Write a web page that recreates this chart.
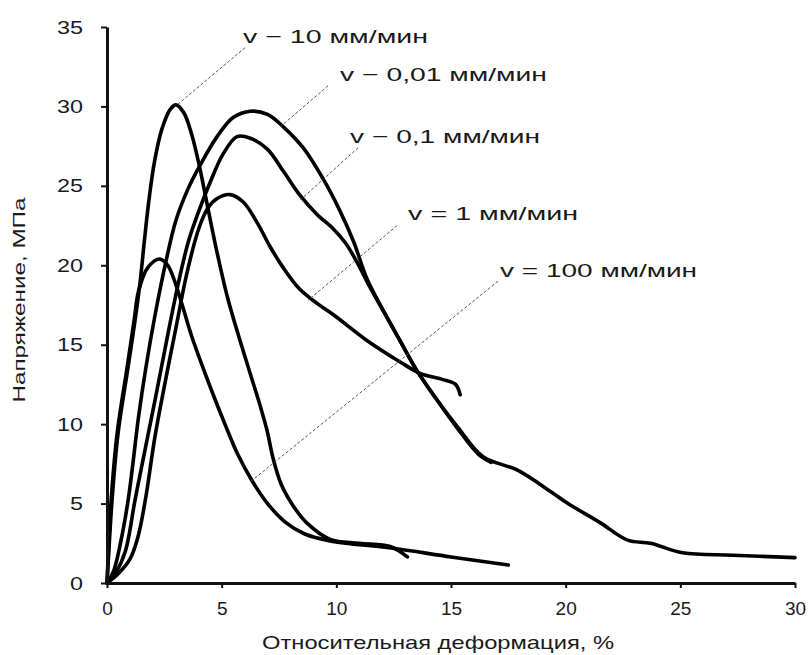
<!DOCTYPE html>
<html>
<head>
<meta charset="utf-8">
<script src="https://cdn.jsdelivr.net/npm/d3@7"></script>
<style>
  body { margin: 0; background: #fff; }
  svg { display: block; }
  text { font-family: "Liberation Sans", Arial, sans-serif; fill: #1a1a1a; }
</style>
</head>
<body>
<div id="vis"></div>
<script>
// tick values on both axes
const strainTicks = [0, 5, 10, 15, 20, 25, 30];
const stressTicks = [0, 5, 10, 15, 20, 25, 30, 35];

// axis titles
const xTitle = "Относительная деформация, %";
const yTitle = "Напряжение, МПа";

// stress-strain curves, [strain %, stress MPa]
const curve10 = [[0, 0], [0.08, 2], [0.22, 5.2], [0.48, 9.4], [0.92, 13.6], [1.2, 16.3], [1.44, 18.9],
  [1.62, 21.4], [1.82, 24.0], [2.08, 26.6], [2.4, 28.6], [2.75, 29.8], [3.01, 30.1], [3.35, 29.6],
  [3.7, 28.2], [4.05, 26.1], [4.4, 23.6], [4.8, 20.8], [5.25, 18.0], [5.75, 15.5], [6.24, 13.2],
  [6.65, 11.3], [6.98, 9.6], [7.25, 7.8], [7.6, 6.2], [8.1, 4.9], [8.7, 3.8], [9.73, 2.75],
  [11.0, 2.5], [12.35, 2.3], [13.1, 1.64]];

const curve001 = [[0, 0], [0.3, 0.8], [0.6, 2.6], [0.92, 5.2], [1.12, 7.4], [1.37, 10.4], [1.7, 13.6],
  [2.1, 16.9], [2.55, 20.1], [3.0, 22.8], [3.5, 24.7], [4.06, 26.3], [4.8, 28.1], [5.5, 29.3],
  [6.25, 29.7], [7.0, 29.5], [7.7, 28.7], [8.55, 27.4], [9.4, 25.5], [10.1, 23.6], [10.75, 21.5],
  [11.35, 19.1], [12.1, 17.0], [12.8, 15.2], [13.5, 13.4], [14.4, 11.5], [15.3, 9.8], [16.4, 7.95],
  [17.9, 7.1], [19.4, 5.7], [20.1, 5.0], [21.5, 3.8], [22.7, 2.7], [23.7, 2.5], [25.1, 1.9],
  [27.3, 1.75], [30.0, 1.6]];

const curve01 = [[0, 0], [0.4, 0.7], [0.8, 2.0], [1.22, 5.2], [1.66, 8.4], [2.12, 11.7], [2.62, 15.4],
  [3.1, 18.8], [3.55, 21.5], [4.0, 23.4], [4.49, 25.2], [5.06, 27.0], [5.67, 28.1], [6.25, 28.0],
  [7.0, 27.3], [7.7, 25.9], [8.42, 24.4], [9.16, 23.2], [9.86, 22.3], [10.4, 21.4], [10.9, 20.2],
  [11.4, 18.8], [12.1, 17.0], [12.8, 15.2], [13.5, 13.4], [14.4, 11.5], [15.3, 9.7], [16.2, 8.1],
  [16.75, 7.6]];

const curve1 = [[0, 0], [0.5, 0.6], [1.0, 1.5], [1.35, 2.9], [1.68, 5.3], [2.09, 9.2], [2.53, 12.6],
  [2.97, 15.8], [3.5, 19.6], [4.0, 22.3], [4.4, 23.6], [4.8, 24.2], [5.36, 24.45], [5.93, 24.0],
  [6.54, 22.7], [7.1, 21.2], [7.66, 19.9], [8.4, 18.5], [9.16, 17.6], [9.86, 16.9], [11.3, 15.3],
  [12.8, 13.9], [13.65, 13.2], [14.65, 12.8], [15.2, 12.5], [15.4, 11.85]];

const curve100 = [[0, 0], [0.06, 2], [0.18, 5.2], [0.44, 9.4], [0.88, 13.6], [1.18, 16.5], [1.38, 18.4],
  [1.8, 19.9], [2.3, 20.4], [2.65, 20.0], [2.95, 19.0], [3.3, 17.4], [3.7, 15.5], [4.2, 13.5],
  [4.7, 11.6], [5.2, 9.8], [5.7, 8.1], [6.3, 6.5], [7.0, 5.0], [7.8, 3.8], [8.6, 3.1], [9.73, 2.65],
  [12.4, 2.2], [15.0, 1.64], [17.5, 1.13]];

// curve labels, where each label sits and where its leader line points (data units)
const speedLabels = ["v − 10 мм/мин", "v − 0,01 мм/мин", "v − 0,1 мм/мин", "v = 1 мм/мин", "v = 100 мм/мин"];
const labelAnchors = [[5.93, 34.0], [10.16, 31.6], [10.6, 27.7], [13.13, 22.85], [17.14, 19.26]];
const leaderStarts = [[6.02, 33.7], [9.64, 31.3], [10.95, 27.4], [12.65, 22.5], [17.05, 19.0]];
const leaderEnds = [[3.1, 30.15], [7.54, 28.7], [8.42, 24.1], [8.77, 17.8], [6.24, 6.36]];

function stressChart() {
  const width = 810;
  const height = 655;
  const margin = { top: 27, right: 15, bottom: 72, left: 107 };

  const svg = d3
    .select("#vis")
    .append("svg")
    .attr("width", width)
    .attr("height", height);

  const x = d3
    .scaleLinear()
    .domain([0, 30])
    .range([margin.left, width - margin.right]);

  const y = d3
    .scaleLinear()
    .domain([0, 35])
    .range([height - margin.bottom, margin.top]);

  // curves first, axes drawn on top
  const line = d3
    .line()
    .x((d) => x(d[0]))
    .y((d) => y(d[1]))
    .curve(d3.curveCatmullRom.alpha(0.5));

  const curves = [curve10, curve001, curve01, curve1, curve100];

  svg
    .append("g")
    .selectAll("path")
    .data(curves)
    .enter()
    .append("path")
    .attr("d", line)
    .attr("fill", "none")
    .attr("stroke", "#000")
    .attr("stroke-width", 3.6)
    .attr("stroke-linejoin", "round")
    .attr("stroke-linecap", "round");

  // dashed leaders from labels to curves
  svg
    .append("g")
    .selectAll("line")
    .data(speedLabels.map((s, i) => [leaderStarts[i], leaderEnds[i]]))
    .enter()
    .append("line")
    .attr("x1", (d) => x(d[0][0]))
    .attr("y1", (d) => y(d[0][1]))
    .attr("x2", (d) => x(d[1][0]))
    .attr("y2", (d) => y(d[1][1]))
    .attr("stroke", "#555")
    .attr("stroke-width", 1)
    .attr("stroke-dasharray", "3,2");

  const labelWidths = [185, 207, 190, 170, 197];

  svg
    .append("g")
    .selectAll("text")
    .data(speedLabels)
    .enter()
    .append("text")
    .attr("x", (d, i) => x(labelAnchors[i][0]))
    .attr("y", (d, i) => y(labelAnchors[i][1]))
    .attr("font-size", 19)
    .attr("textLength", (d, i) => labelWidths[i])
    .attr("lengthAdjust", "spacingAndGlyphs")
    .text((d) => d);

  // axes
  const xAxis = svg
    .append("g")
    .attr("transform", `translate(0,${height - margin.bottom})`)
    .call(
      d3
        .axisBottom(x)
        .tickValues(strainTicks)
        .tickSize(5)
        .tickSizeOuter(0)
        .tickPadding(14)
    );

  const yAxis = svg
    .append("g")
    .attr("transform", `translate(${margin.left},0)`)
    .call(
      d3
        .axisLeft(y)
        .tickValues(stressTicks)
        .tickSize(6)
        .tickSizeOuter(0)
        .tickPadding(18)
    );

  [xAxis, yAxis].forEach((g) => {
    g.select(".domain").attr("stroke", "#111").attr("stroke-width", 3);
    g.selectAll(".tick line").attr("stroke", "#111").attr("stroke-width", 2);
    g.selectAll(".tick text")
      .attr("font-size", 19)
      .attr("font-family", "Liberation Sans, Arial, sans-serif")
      .attr("fill", "#1a1a1a");
  });

  yAxis.selectAll(".tick text")
    .attr("textLength", (d) => String(d).length * 13)
    .attr("lengthAdjust", "spacingAndGlyphs");

  // axis titles
  svg
    .append("text")
    .attr("x", 438)
    .attr("y", 649)
    .attr("text-anchor", "middle")
    .attr("font-size", 19)
    .attr("textLength", 352)
    .attr("lengthAdjust", "spacingAndGlyphs")
    .text(xTitle);

  svg
    .append("text")
    .attr("transform", "translate(25,300) rotate(-90)")
    .attr("text-anchor", "middle")
    .attr("font-size", 17)
    .attr("textLength", 205)
    .attr("lengthAdjust", "spacingAndGlyphs")
    .text(yTitle);
}

stressChart();
</script>
</body>
</html>
